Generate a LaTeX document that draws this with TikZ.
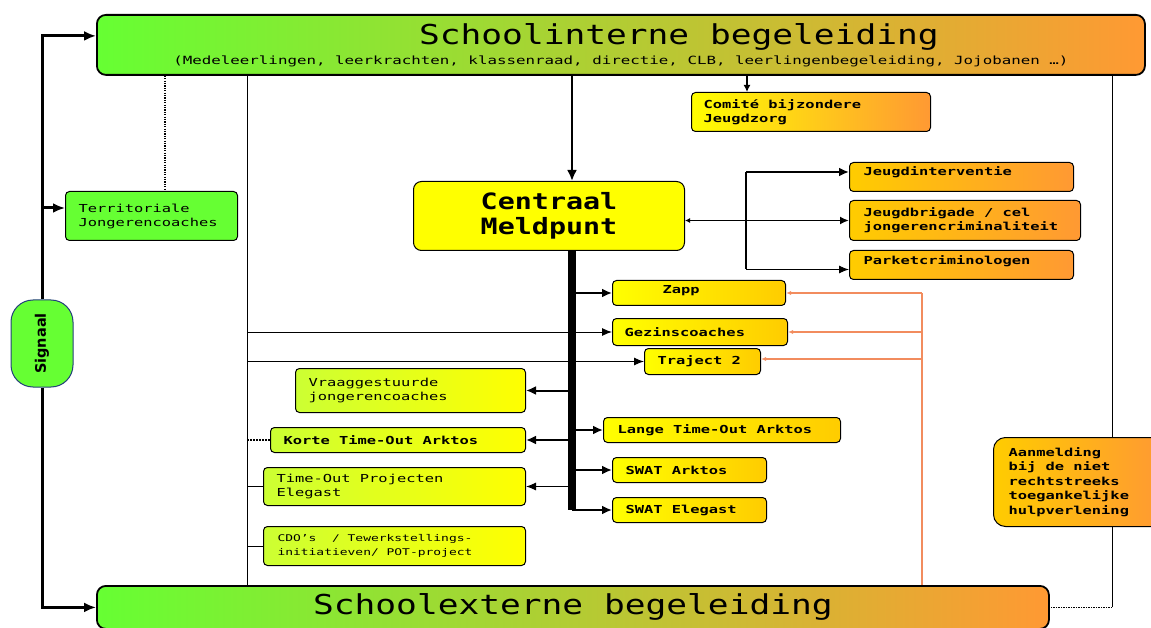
\documentclass[tikz,border=0pt]{standalone}
\usepackage{fontspec}
\usepackage{graphicx}
\usetikzlibrary{arrows.meta}
\newfontfamily\boxfont[FakeStretch=1.4]{DejaVu Sans Mono}
\newfontfamily\ttlfont[FakeStretch=1.26]{DejaVu Sans Mono}
\newfontfamily\sigfont{DejaVu Sans}
\newcommand\widesp{\spaceskip=0.843em\relax}
\definecolor{cgreen}{HTML}{66FF33}
\definecolor{cyel}{HTML}{FFFF00}
\definecolor{cgold}{HTML}{FFCC00}
\definecolor{corange}{HTML}{FF9933}
\definecolor{clime}{HTML}{CCFF33}
\definecolor{cmid}{HTML}{C4D232}
\definecolor{cline}{HTML}{F28C5E}
\definecolor{cblue}{HTML}{23407A}
\begin{document}
\begin{tikzpicture}[x=1pt, y=-1pt,
  bx/.style={draw=black, line width=1pt, rounded corners=4pt, anchor=north west, align=left, inner ysep=0pt,
    font=\boxfont\bfseries\fontsize{11}{14}\selectfont, execute at begin node=\widesp},
  rg/.style={font=\boxfont\fontsize{11}{14}\selectfont},
  banner/.style={draw=black, line width=1.8pt, rounded corners=9pt, anchor=north west, inner sep=0pt, align=center,
    left color=cgreen, middle color=cmid, right color=corange},
  gy/.style={left color=cyel, right color=cgold},
  go/.style={left color=cgold, right color=corange},
  ly/.style={left color=clime, right color=cyel},
  yo/.style={left color=cyel, right color=corange},
  sa/.style={line width=3pt, -{Latex[length=12pt,width=10pt]}},
  ba/.style={line width=2pt, -{Latex[length=10pt,width=9pt]}},
  ta/.style={line width=1pt, -{Latex[length=10pt,width=8pt]}},
  oa/.style={draw=cline, line width=1.8pt, -{Latex[length=5pt,width=4pt]}},
  thinline/.style={line width=1pt}
]
\useasboundingbox (0,0) rectangle (1151,628);

% banners
\node[banner, minimum width=1048pt, minimum height=60pt, font=\ttlfont\fontsize{27.4}{20}\selectfont] (sib) at (96,14)
  {\hspace*{116pt}Schoolinterne begeleiding\\{\boxfont\fontsize{11.3}{13}\selectfont (Medeleerlingen, leerkrachten, klassenraad, directie, CLB, leerlingenbegeleiding, Jojobanen …)}};
\node[banner, minimum width=952pt, minimum height=43pt, font=\ttlfont\fontsize{27.4}{20}\selectfont] (seb) at (96,585)
  {Schoolexterne begeleiding};

% signal
\node[draw=cblue, line width=1pt, fill=cgreen, rounded corners=22pt, minimum width=62pt, minimum height=87pt, inner sep=0pt] (sig) at (42,343.5)
  {\rotatebox{90}{\sigfont\bfseries\fontsize{14.5}{16}\selectfont Signaal}};

% boxes
\node[bx, rg, fill=cgreen, text width=146pt, inner xsep=13pt, minimum height=49pt] (terr) at (65,191) {Territoriale\\Jongerencoaches};
\node[bx, yo, text width=215pt, inner xsep=12pt, minimum height=39pt] (com) at (691,92) {Comité bijzondere\\Jeugdzorg};
\node[draw=black, line width=1pt, rounded corners=8pt, anchor=north west, inner sep=0pt, fill=cyel, align=center,
      minimum width=271pt, minimum height=69pt, font=\ttlfont\bfseries\fontsize{22.5}{25}\selectfont] (cm) at (413,181) {Centraal\\Meldpunt};
\node[bx, go, text width=196pt, inner xsep=14pt, minimum height=29pt, text depth=11pt] (ji) at (849,162) {Jeugdinterventie};
\node[bx, go, text width=203pt, inner xsep=14pt, minimum height=40pt] (jb) at (849,200) {Jeugdbrigade / cel\\jongerencriminaliteit};
\node[bx, go, text width=196pt, inner xsep=14pt, minimum height=29pt, text depth=9pt] (pk) at (849,250) {Parketcriminologen};
\node[bx, gy, text width=73pt, inner xsep=50pt, minimum height=25pt, text depth=7pt] (zapp) at (612,280) {Zapp};
\node[bx, gy, text width=151pt, inner xsep=12pt, minimum height=27pt] (gez) at (612,318) {Gezinscoaches};
\node[bx, gy, text width=90pt, inner xsep=13pt, minimum height=26pt] (tr) at (644,348) {Traject~2};
\node[bx, ly, rg, text width=204pt, inner xsep=13pt, minimum height=44pt] (vraag) at (295,368) {Vraaggestuurde\\jongerencoaches};
\node[bx, ly, text width=229pt, inner xsep=13pt, minimum height=25pt] (korte) at (270,427) {Korte Time-Out Arktos};
\node[bx, ly, rg, text width=236pt, inner xsep=13pt, minimum height=38pt] (tope) at (263,467) {Time-Out Projecten\\Elegast};
\node[bx, ly, text width=234pt, inner xsep=14pt, minimum height=39pt, font=\boxfont\fontsize{9.25}{14}\selectfont] (cdo) at (263,526) {CDO’s~ / Tewerkstellings-\\initiatieven/ POT-project};
\node[bx, gy, text width=209pt, inner xsep=14pt, minimum height=25pt] (lange) at (603,417) {Lange Time-Out Arktos};
\node[bx, gy, text width=128pt, inner xsep=13pt, minimum height=25pt] (swa) at (612,457) {SWAT Arktos};
\node[bx, gy, text width=128pt, inner xsep=13pt, minimum height=25pt] (swe) at (612,497) {SWAT Elegast};
\node[bx, go, rounded corners=12pt, text width=140pt, inner xsep=15pt, minimum height=89pt, font=\boxfont\bfseries\fontsize{11}{14.5}\selectfont] (aan) at (993,437)
  {Aanmelding\\bij de niet\\rechtstreeks\\toegankelijke\\hulpverlening};

% helper coordinates (x positions of vertical lines)
\coordinate (dx) at (165,0);
\coordinate (lx) at (247,0);
\coordinate (tx) at (572,0);
\coordinate (bxc) at (746,0);
\coordinate (cx) at (747,0);
\coordinate (ox) at (922,0);
\coordinate (rx) at (1112,0);
\coordinate (tt) at ([yshift=9pt]sib.west);
\coordinate (tw) at ([yshift=8pt]terr.west);
\coordinate (jiA) at ([yshift=5pt]ji.west);
\coordinate (pkA) at ([yshift=-4.5pt]pk.west);
\coordinate (trA) at ([yshift=2.5pt]tr.east);

% signal arrows
\draw[sa] (sig.north) |- (tt);
\draw[sa] (sig.south) |- (seb.west);
\draw[sa] (sig.north |- tw) -- (tw);

% dotted link interne -> territoriale
\draw[line width=2.5pt, dash pattern=on 1.2pt off 1.2pt] (dx |- sib.south) -- (dx |- terr.north);

% left vertical line
\draw[thinline] (lx |- sib.south) -- (lx |- seb.north);
\draw[line width=1.5pt, dash pattern=on 1.5pt off 1.5pt] (lx |- korte.west) -- (korte.west);
\draw[thinline] (lx |- tope.west) -- (tope.west);
\draw[thinline] (lx |- cdo.west) -- (cdo.west);
\draw[ta] (lx |- gez.west) -- (gez.west);
\draw[ta] (lx |- tr.west) -- (tr.west);

% interne -> meldpunt, comite
\draw[line width=2.5pt, -{Latex[length=11pt,width=10pt]}] (tx |- sib.south) -- (tx |- cm.north);
\draw[line width=2pt, -{Latex[length=7pt,width=7pt]}] (cx |- sib.south) -- (cx |- com.north);

% meldpunt <-> justice boxes
\draw[line width=1.2pt] (bxc |- jiA) -- (bxc |- pkA);
\draw[ba] (bxc |- jiA) -- (jiA);
\draw[ta] (bxc |- pkA) -- (pkA);
\draw[line width=1.8pt, {Latex[length=5pt,width=5pt]}-{Latex[length=9pt,width=8pt]}] (jb.west -| cm.east) -- (jb.west);

% trunk
\draw[line width=7.5pt] (tx |- cm.south) -- (tx |- swe.west);
\draw[ba] (tx |- zapp.west) -- (zapp.west);
\draw[ba] (tx |- lange.west) -- (lange.west);
\draw[ba] (tx |- swa.west) -- (swa.west);
\draw[ba] (tx |- swe.west) -- (swe.west);
\draw[ba] (tx |- vraag.east) -- (vraag.east);
\draw[ba] (tx |- korte.east) -- (korte.east);
\draw[ta] (tx |- tope.east) -- (tope.east);

% orange feedback lines
\draw[draw=cline, line width=1.8pt] (ox |- seb.north) -- (ox |- zapp.east);
\draw[oa] (ox |- zapp.east) -- (zapp.east);
\draw[oa] (ox |- gez.east) -- (gez.east);
\draw[oa] (ox |- trA) -- (trA);

% right line
\draw[thinline] (rx |- sib.south) -- (rx |- aan.north);
\draw[thinline] (rx |- aan.south) -- (rx |- seb.east);
\draw[line width=1.5pt, densely dotted] (rx |- seb.east) -- (seb.east);
\end{tikzpicture}
\end{document}
